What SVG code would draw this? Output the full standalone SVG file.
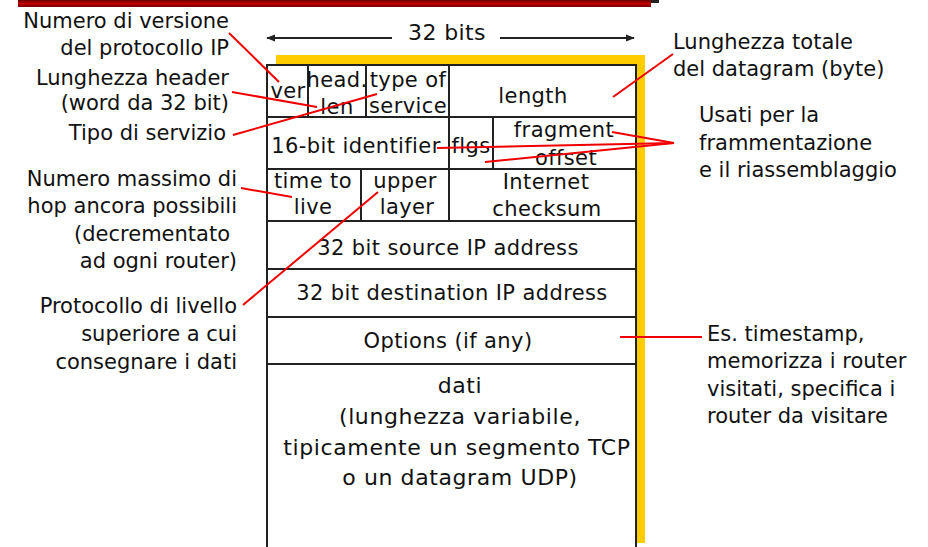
<svg xmlns="http://www.w3.org/2000/svg" width="928" height="547" viewBox="0 0 928 547">
<defs>
<linearGradient id="bar" x1="0" y1="0" x2="0" y2="1">
<stop offset="0" stop-color="#6a0000"/>
<stop offset="0.5" stop-color="#c00000"/>
<stop offset="1" stop-color="#7a0000"/>
</linearGradient>
<marker id="arr" viewBox="0 0 10 10" refX="9" refY="5" markerWidth="9" markerHeight="9" markerUnits="userSpaceOnUse" orient="auto">
<path d="M0,1 L10,5 L0,9 Z" fill="#222"/>
</marker>
</defs>
<style>
text{font-family:"DejaVu Sans","Liberation Sans",sans-serif;font-size:21px;fill:#111}
.c{text-anchor:middle;letter-spacing:0.4px}
.d{font-size:22px;letter-spacing:0.6px}
.r{text-anchor:end}
.cell{fill:none;stroke:#222;stroke-width:2}
.red{stroke:#f00000;stroke-width:2;fill:none}
</style>
<rect width="928" height="547" fill="#fff"/>
<rect x="651" y="0" width="8" height="3" fill="#222"/>
<rect x="18" y="0" width="633" height="7" fill="url(#bar)"/>

<g id="frame">
<rect x="276" y="55" width="369" height="488" fill="#ffcc00"/>
<rect x="267" y="65" width="369" height="490" fill="#fff" stroke="#222" stroke-width="2"/>
</g>

<g id="width-label">
<line x1="392" y1="38" x2="267" y2="38" stroke="#222" stroke-width="2" marker-end="url(#arr)"/>
<line x1="500" y1="38" x2="634" y2="38" stroke="#222" stroke-width="2" marker-end="url(#arr)"/>
<text x="447" y="40" class="c" style="font-size:22px">32 bits</text>
</g>

<g id="row1">
<path class="cell" d="M267,117 H636 M308,65 V117 M366,65 V117 M449,65 V117"/>
<text x="288" y="98" class="c">ver</text>
<text x="337" y="87" class="c">head.</text>
<text x="337" y="114" class="c">len</text>
<text x="408" y="87" class="c">type of</text>
<text x="408" y="113" class="c">service</text>
<text x="533" y="103" class="c">length</text>
</g>
<g id="row2">
<path class="cell" d="M267,169 H636 M449,117 V169 M493,117 V169"/>
<text x="356" y="153" class="c">16-bit identifier</text>
<text x="471" y="153" class="c">flgs</text>
<text x="564" y="137" class="c">fragment</text>
<text x="566" y="165" class="c">offset</text>
</g>
<g id="row3">
<path class="cell" d="M267,221 H636 M361,169 V221 M449,169 V221"/>
<text x="313" y="188" class="c">time to</text>
<text x="313" y="214" class="c">live</text>
<text x="405" y="188" class="c">upper</text>
<text x="407" y="214" class="c">layer</text>
<text x="546" y="189" class="c">Internet</text>
<text x="547" y="216" class="c">checksum</text>
</g>
<g id="row4">
<path class="cell" d="M267,269 H636"/>
<text x="448" y="255" class="c">32 bit source IP address</text>
</g>
<g id="row5">
<path class="cell" d="M267,317 H636"/>
<text x="452" y="300" class="c">32 bit destination IP address</text>
</g>
<g id="row6">
<path class="cell" d="M267,364 H636"/>
<text x="448" y="348" class="c">Options (if any)</text>
</g>
<g id="data">
<text x="460" y="393" class="c d">dati</text>
<text x="460" y="424" class="c d">(lunghezza variabile,</text>
<text x="457" y="455" class="c d">tipicamente un segmento TCP</text>
<text x="460" y="485" class="c d">o un datagram UDP)</text>
</g>

<g id="label-version">
<text x="229" y="28" class="r">Numero di versione</text>
<text x="229" y="55" class="r">del protocollo IP</text>
</g>
<g id="label-hlen">
<text x="229" y="85" class="r">Lunghezza header</text>
<text x="229" y="110" class="r">(word da 32 bit)</text>
</g>
<g id="label-tos">
<text x="226" y="140" class="r">Tipo di servizio</text>
</g>
<g id="label-ttl">
<text x="237" y="186" class="r">Numero massimo di</text>
<text x="237" y="213" class="r">hop ancora possibili</text>
<text x="230" y="241" class="r">(decrementato</text>
<text x="237" y="268" class="r">ad ogni router)</text>
</g>
<g id="label-proto">
<text x="237" y="313" class="r">Protocollo di livello</text>
<text x="237" y="341" class="r">superiore a cui</text>
<text x="237" y="369" class="r">consegnare i dati</text>
</g>
<g id="label-length">
<text x="673" y="49">Lunghezza totale</text>
<text x="673" y="76">del datagram (byte)</text>
</g>
<g id="label-frag">
<text x="699" y="122">Usati per la</text>
<text x="699" y="150">frammentazione</text>
<text x="699" y="177">e il riassemblaggio</text>
</g>
<g id="label-options">
<text x="707" y="341">Es. timestamp,</text>
<text x="707" y="368">memorizza i router</text>
<text x="707" y="396">visitati, specifica i</text>
<text x="707" y="423">router da visitare</text>
</g>

<g id="connectors">
<line class="red" x1="229" y1="33" x2="279" y2="82"/>
<line class="red" x1="232" y1="92" x2="317" y2="107"/>
<line class="red" x1="233" y1="135" x2="377" y2="94"/>
<line class="red" x1="673" y1="54" x2="613" y2="97"/>
<line class="red" x1="674" y1="143" x2="612" y2="132"/>
<line class="red" x1="674" y1="143" x2="437" y2="148"/>
<line class="red" x1="674" y1="143" x2="485" y2="162"/>
<line class="red" x1="241" y1="188" x2="292" y2="197"/>
<line class="red" x1="378" y1="192" x2="243" y2="305"/>
<line class="red" x1="620" y1="337" x2="702" y2="337"/>
</g>
</svg>
